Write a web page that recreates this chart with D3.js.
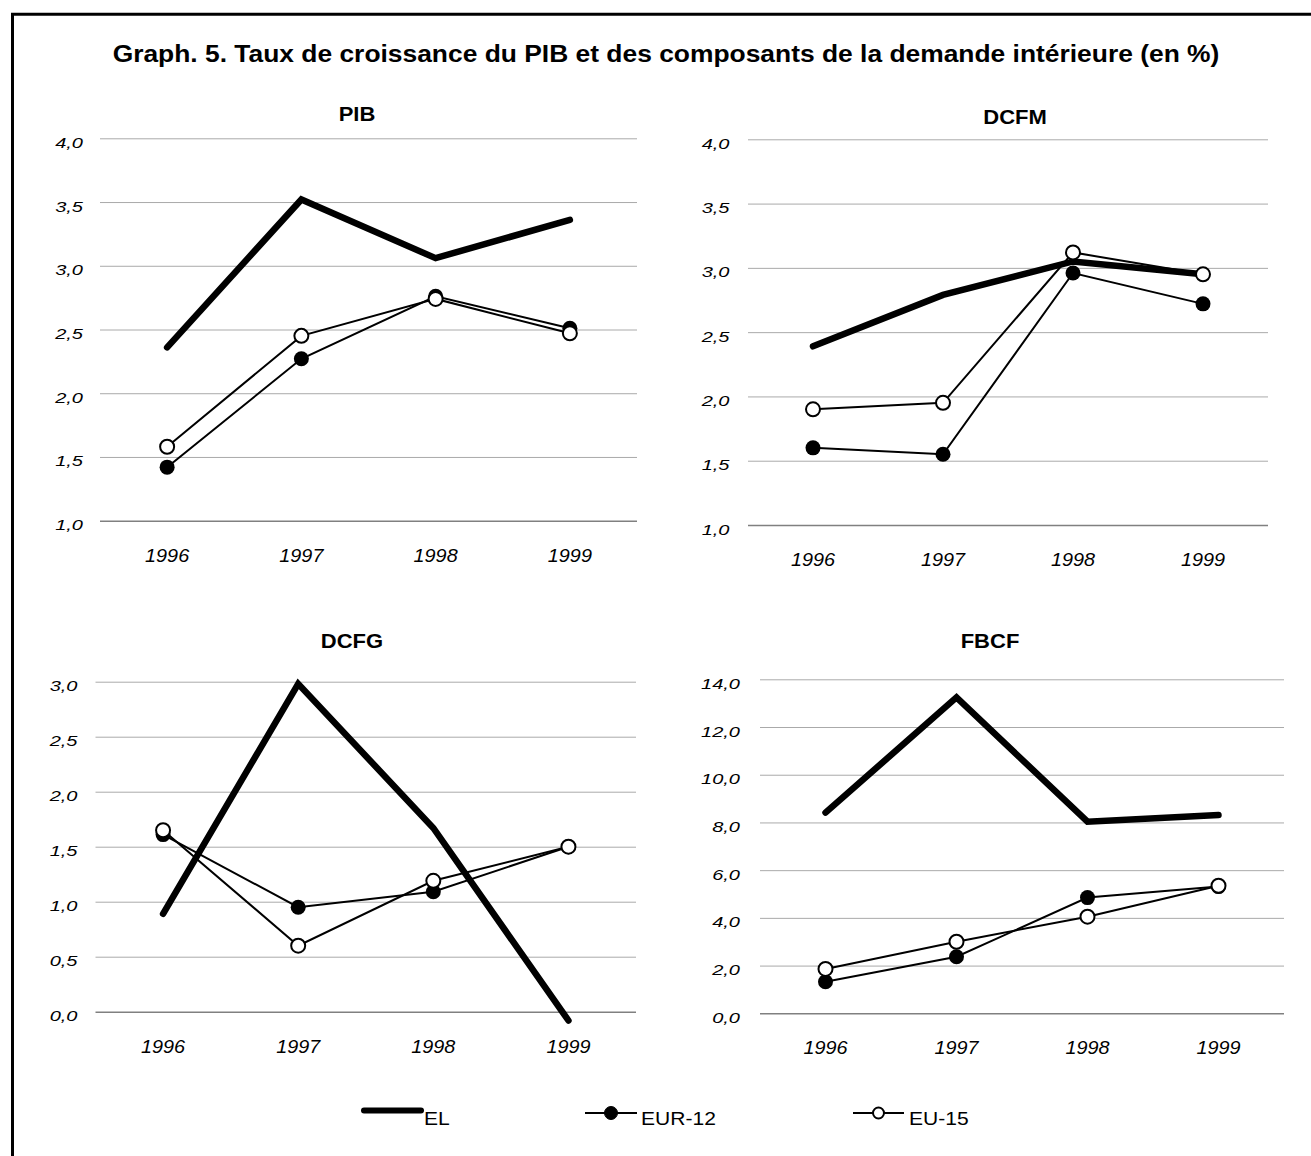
<!DOCTYPE html>
<html>
<head>
<meta charset="utf-8">
<script src="https://cdn.jsdelivr.net/npm/d3@7"></script>
<style>
  body { margin: 0; background: #fff; }
  svg { display: block; font-family: "Liberation Sans", Arial, sans-serif; }
</style>
</head>
<body>
<script>
// categories
const years = ["1996", "1997", "1998", "1999"];
const seriesNames = ["EL", "EUR-12", "EU-15"];

// PIB
const pibEL = [2.36, 3.52, 3.06, 3.36];
const pibEUR12 = [1.42, 2.27, 2.76, 2.51];
const pibEU15 = [1.58, 2.45, 2.74, 2.47];
const pibTicks = [1.0, 1.5, 2.0, 2.5, 3.0, 3.5, 4.0];

// DCFM
const dcfmEL = [2.39, 2.79, 3.05, 2.95];
const dcfmEUR12 = [1.60, 1.55, 2.96, 2.72];
const dcfmEU15 = [1.90, 1.95, 3.12, 2.95];
const dcfmTicks = [1.0, 1.5, 2.0, 2.5, 3.0, 3.5, 4.0];

// DCFG
const dcfgEL = [0.89, 2.98, 1.67, -0.08];
const dcfgEUR12 = [1.61, 0.95, 1.09, 1.50];
const dcfgEU15 = [1.65, 0.60, 1.19, 1.50];
const dcfgTicks = [0.0, 0.5, 1.0, 1.5, 2.0, 2.5, 3.0];

// FBCF
const fbcfEL = [8.41, 13.24, 8.03, 8.31];
const fbcfEUR12 = [1.32, 2.37, 4.85, 5.31];
const fbcfEU15 = [1.86, 3.00, 4.05, 5.35];
const fbcfTicks = [0, 2, 4, 6, 8, 10, 12, 14];

const svgWidth = 1311;
const svgHeight = 1156;

const svg = d3.select("body")
  .append("svg")
  .attr("width", svgWidth)
  .attr("height", svgHeight);

// outer frame (only top and left edges visible)
svg.append("path")
  .attr("d", `M12.5,${svgHeight + 5} V14.2 H${svgWidth + 5}`)
  .attr("fill", "none")
  .attr("stroke", "#000")
  .attr("stroke-width", 3);

// main title
svg.append("text")
  .attr("transform", "translate(666,62) scale(1.1,1)")
  .attr("text-anchor", "middle")
  .attr("font-size", "24px")
  .attr("font-weight", "bold")
  .text("Graph. 5. Taux de croissance du PIB et des composants de la demande intérieure (en %)");

const fr = d3.formatLocale({ decimal: ",", thousands: " ", grouping: [3], currency: ["", " €"] });
const fmt = fr.format(".1f");

// layout of the four panels
const panels = [
  { title: "PIB", el: pibEL, eur: pibEUR12, eu: pibEU15, ticks: pibTicks,
    x0: 100, x1: 637, yTop: 138.3, yBot: 520.7, tx: 357, ty: 121, gap: 17 },
  { title: "DCFM", el: dcfmEL, eur: dcfmEUR12, eu: dcfmEU15, ticks: dcfmTicks,
    x0: 748, x1: 1268, yTop: 139.3, yBot: 525, tx: 1015, ty: 124, gap: 18.5 },
  { title: "DCFG", el: dcfgEL, eur: dcfgEUR12, eu: dcfgEU15, ticks: dcfgTicks,
    x0: 95.5, x1: 636, yTop: 681.7, yBot: 1011.7, tx: 352, ty: 648, gap: 18 },
  { title: "FBCF", el: fbcfEL, eur: fbcfEUR12, eu: fbcfEU15, ticks: fbcfTicks,
    x0: 760, x1: 1284, yTop: 679.3, yBot: 1013.3, tx: 990, ty: 648, gap: 20 }
];

panels.forEach(function(p) {
  const g = svg.append("g");

  const x = d3.scaleBand().domain(years).range([p.x0, p.x1]);
  const y = d3.scaleLinear()
    .domain([p.ticks[0], p.ticks[p.ticks.length - 1]])
    .range([p.yBot, p.yTop]);
  const cx = d => x(d) + x.bandwidth() / 2;

  // panel title
  g.append("text")
    .attr("transform", `translate(${p.tx},${p.ty}) scale(1.1,1)`)
    .attr("text-anchor", "middle")
    .attr("font-size", "20px")
    .attr("font-weight", "bold")
    .text(p.title);

  // y axis with gridlines
  const yAxis = g.append("g")
    .attr("transform", `translate(${p.x0},0)`)
    .call(d3.axisLeft(y).tickValues(p.ticks).tickFormat(fmt).tickSize(-(p.x1 - p.x0)));
  yAxis.select(".domain").remove();
  yAxis.selectAll(".tick line")
    .attr("stroke", (d, i) => i === 0 ? "#808080" : "#aaaaaa")
    .attr("stroke-width", (d, i) => i === 0 ? 1.6 : 1);
  yAxis.selectAll(".tick text")
    .attr("x", 0)
    .attr("dy", null)
    .attr("transform", `translate(${-p.gap},9) scale(1.38,1)`)
    .attr("text-anchor", "end")
    .attr("font-family", null)
    .attr("font-size", "14.5px")
    .attr("font-style", "italic")
    .attr("fill", "#000");

  // x axis (labels only)
  const xAxis = g.append("g")
    .attr("transform", `translate(0,${p.yBot})`)
    .call(d3.axisBottom(x).tickSize(0));
  xAxis.select(".domain").remove();
  xAxis.selectAll(".tick text")
    .attr("y", 0)
    .attr("dy", null)
    .attr("transform", "translate(0,41) scale(1.1,1)")
    .attr("font-family", null)
    .attr("font-size", "18px")
    .attr("font-style", "italic")
    .attr("fill", "#000");

  const line = d3.line()
    .x((d, i) => cx(years[i]))
    .y(d => y(d));

  // EL
  g.append("path")
    .datum(p.el)
    .attr("d", line)
    .attr("fill", "none")
    .attr("stroke", "#000")
    .attr("stroke-width", 6.5)
    .attr("stroke-linecap", "round")
    .attr("stroke-linejoin", "miter");

  // EUR-12
  g.append("path")
    .datum(p.eur)
    .attr("d", line)
    .attr("fill", "none")
    .attr("stroke", "#000")
    .attr("stroke-width", 2);
  g.append("g").selectAll("circle")
    .data(p.eur)
    .enter()
    .append("circle")
    .attr("cx", (d, i) => cx(years[i]))
    .attr("cy", d => y(d))
    .attr("r", 7.5)
    .attr("fill", "#000");

  // EU-15
  g.append("path")
    .datum(p.eu)
    .attr("d", line)
    .attr("fill", "none")
    .attr("stroke", "#000")
    .attr("stroke-width", 2);
  g.append("g").selectAll("circle")
    .data(p.eu)
    .enter()
    .append("circle")
    .attr("cx", (d, i) => cx(years[i]))
    .attr("cy", d => y(d))
    .attr("r", 7)
    .attr("fill", "#fff")
    .attr("stroke", "#000")
    .attr("stroke-width", 2);
});

// legend
const legendItems = [
  { name: seriesNames[0], x1: 364, x2: 421, ly: 1110.5, tx: 424, width: 6, marker: null },
  { name: seriesNames[1], x1: 585, x2: 637, ly: 1113, tx: 641, width: 2, marker: "filled" },
  { name: seriesNames[2], x1: 853, x2: 904, ly: 1113, tx: 909, width: 2, marker: "open" }
];
const legend = svg.append("g");
legendItems.forEach(function(it) {
  legend.append("line")
    .attr("x1", it.x1).attr("x2", it.x2)
    .attr("y1", it.ly).attr("y2", it.ly)
    .attr("stroke", "#000")
    .attr("stroke-width", it.width)
    .attr("stroke-linecap", it.marker ? "butt" : "round");
  if (it.marker) {
    legend.append("circle")
      .attr("cx", (it.x1 + it.x2) / 2)
      .attr("cy", it.ly)
      .attr("r", it.marker === "filled" ? 6.5 : 5.5)
      .attr("fill", it.marker === "filled" ? "#000" : "#fff")
      .attr("stroke", "#000")
      .attr("stroke-width", it.marker === "filled" ? 1 : 2);
  }
  legend.append("text")
    .attr("transform", `translate(${it.tx},1125) scale(1.17,1)`)
    .attr("font-size", "18px")
    .text(it.name);
});
</script>
</body>
</html>
